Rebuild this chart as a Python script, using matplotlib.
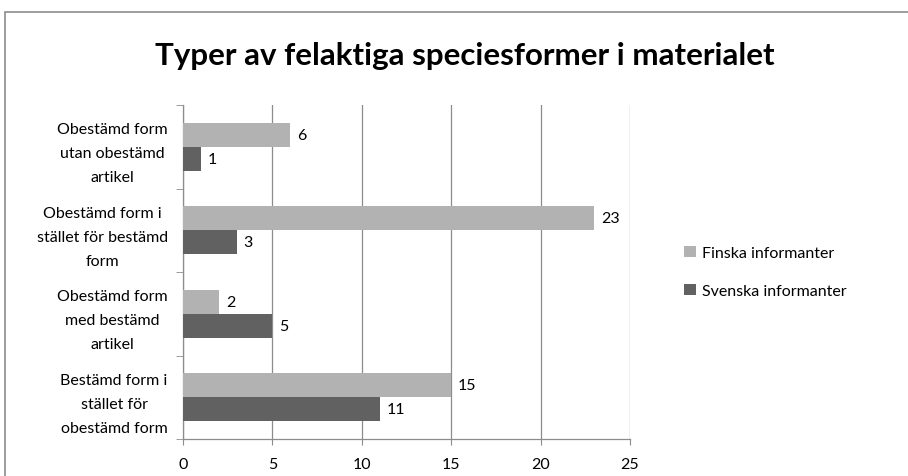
import matplotlib.pyplot as plt
import numpy as np
from matplotlib.patches import Rectangle

# data, top category first
categories = ["Obestämd form\nutan obestämd\nartikel",
              "Obestämd form i\nstället för bestämd\nform",
              "Obestämd form\nmed bestämd\nartikel",
              "Bestämd form i\nstället för\nobestämd form"]
finska = [6, 23, 2, 15]
svenska = [1, 3, 5, 11]
series_names = ["Finska informanter", "Svenska informanter"]
xticks = [0, 5, 10, 15, 20, 25]

plt.rcParams['font.family'] = ['Lato', 'DejaVu Sans']

light = "#b2b2b2"
dark = "#616161"
grid = "#8c8c8c"
fs = 11.5

fig = plt.figure(figsize=(9.08, 4.77), dpi=100)
ax = fig.add_axes([183/908, 1-440/477, (630-183)/908, (440-106)/477])

n = len(categories)
y = np.arange(n)[::-1].astype(float)  # top category at highest y
h = 1/3.5
b1 = ax.barh(y + h/2, finska, height=h, color=light, label=series_names[0], zorder=3)
b2 = ax.barh(y - h/2, svenska, height=h, color=dark, label=series_names[1], zorder=3)

for bars in (b1, b2):
    for r in bars:
        ax.annotate(str(int(r.get_width())), (r.get_width(), r.get_y() + r.get_height()/2),
                    xytext=(5, 0), textcoords="offset points", va="center", ha="left",
                    fontsize=fs, color="black")

ax.set_xlim(0, 25)
ax.set_ylim(-0.5, n - 0.5)
ax.set_xticks(xticks)
ax.set_xticklabels([str(t) for t in xticks], fontsize=fs)
ax.tick_params(axis='x', length=4, color=grid, pad=9)
ax.xaxis.grid(True, color=grid, lw=0.9, zorder=0)

ax.set_yticks(y)
ax.set_yticklabels(categories, fontsize=fs, multialignment='center', linespacing=1.9)
ax.tick_params(axis='y', which='major', length=0, pad=11)
ax.set_yticks(np.arange(n + 1) - 0.5, minor=True)
ax.tick_params(axis='y', which='minor', length=5, color=grid)

for s in ["top", "right"]:
    ax.spines[s].set_visible(False)
for s in ["left", "bottom"]:
    ax.spines[s].set_color(grid)
    ax.spines[s].set_linewidth(0.9)

fig.text(465/908, 1-56/477, "Typer av felaktiga speciesformer i materialet",
         ha="center", va="center", fontsize=22.5, fontweight="bold")

leg = fig.legend(handles=[b1, b2], loc="center left", bbox_to_anchor=(670/908, 1-273/477),
                 frameon=False, fontsize=fs, handlelength=0.7, handleheight=0.7,
                 handletextpad=0.4, labelspacing=1.45)

fig.patches.append(Rectangle((5/908, -0.1), 1, 1 - 13/477 + 0.1, transform=fig.transFigure,
                             fill=False, edgecolor="#8c8c8c", lw=1.2))

fig.savefig("out.png", dpi=100)
